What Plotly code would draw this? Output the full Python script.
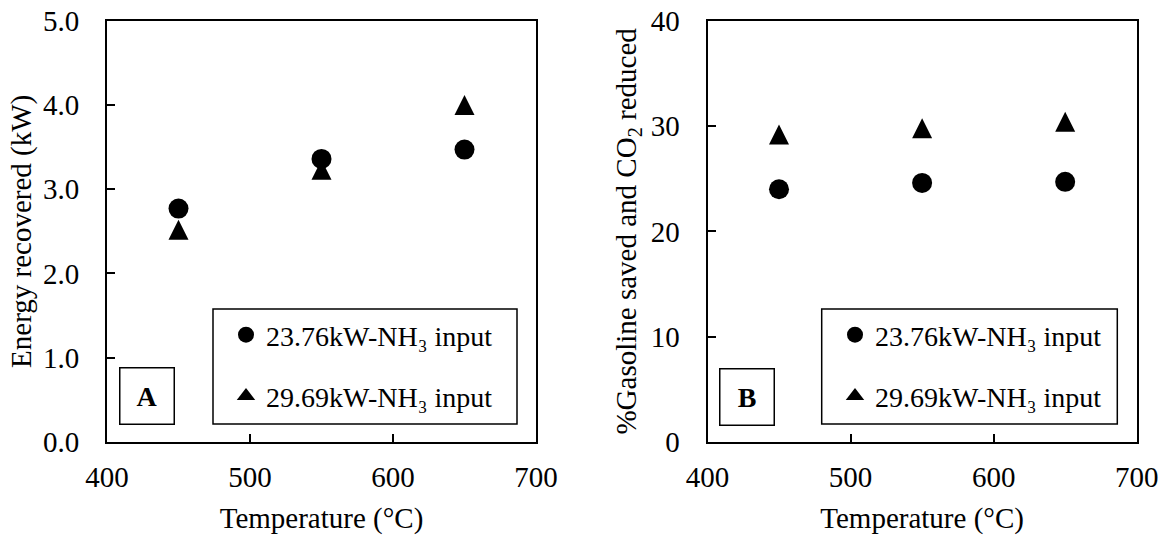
import plotly.graph_objects as go

# ---------------- data ----------------
temps = [450, 550, 650]
series_names = ["23.76kW-NH₃ input", "29.69kW-NH₃ input"]
energy_low = [2.77, 3.36, 3.47]      # kW, 23.76 kW NH3 input
energy_high = [2.52, 3.23, 4.00]     # kW, 29.69 kW NH3 input
saving_low = [24.0, 24.6, 24.7]      # %, 23.76 kW NH3 input
saving_high = [29.2, 29.8, 30.4]     # %, 29.69 kW NH3 input
x_ticks = [400, 500, 600, 700]
y1_ticks = [0, 1, 2, 3, 4, 5]
y2_ticks = [0, 10, 20, 30, 40]
panel_labels = ["A", "B"]
x_title = "Temperature (°C)"
y1_title = "Energy recovered (kW)"
y2_title = "%Gasoline saved and CO<sub>2</sub> reduced"

# ---------------- layout helpers ----------------
W, H = 1172, 538
FONT = "Liberation Serif"


def fx(p):
    return p / W


def fy(p):
    return 1 - p / H


circle_marker = dict(symbol="circle", size=20, color="black", line=dict(width=0))
# equal width/height triangle, centred on the data point
tri_marker = dict(symbol="arrow-down", angle=180, standoff=10, size=20,
                  color="black", line=dict(width=0))
tri_legend_marker = dict(symbol="triangle-up", size=16, color="black", line=dict(width=0))

fig = go.Figure()

panels = [
    ("x", "y", "legend", energy_low, energy_high),
    ("x2", "y2", "legend2", saving_low, saving_high),
]
for i, (xa, ya, lg, low, high) in enumerate(panels):
    fig.add_trace(go.Scatter(x=temps, y=low, mode="markers", name=series_names[0],
                             marker=circle_marker, xaxis=xa, yaxis=ya,
                             legend=lg, legendgroup=f"c{i}"))
    fig.add_trace(go.Scatter(x=temps, y=high, mode="markers", name=series_names[1],
                             marker=tri_marker, xaxis=xa, yaxis=ya,
                             showlegend=False, legendgroup=f"t{i}"))
    # legend entry for the triangle series (plain triangle glyph)
    fig.add_trace(go.Scatter(x=[None], y=[None], mode="markers", name=series_names[1],
                             marker=tri_legend_marker, xaxis=xa, yaxis=ya,
                             legend=lg, legendgroup=f"t{i}"))

ydom = [fy(442), fy(20.7)]
common_x = dict(range=[x_ticks[0], x_ticks[-1]], tickvals=x_ticks, ticks="inside", ticklen=8,
                tickwidth=1.5, tickcolor="black", showline=True, linecolor="black",
                linewidth=2, mirror=True, showgrid=False, zeroline=False,
                tickfont=dict(family=FONT, size=29, color="black"),
                ticklabelstandoff=8, automargin=False,
                title=dict(text=x_title, font=dict(family=FONT, size=29, color="black"),
                           standoff=16))
common_y = dict(ticks="inside", ticklen=8, tickwidth=1.5, tickcolor="black", showline=True,
                linecolor="black", linewidth=2, mirror=True, showgrid=False, zeroline=False,
                tickfont=dict(family=FONT, size=29, color="black"),
                ticklabelstandoff=20, automargin=False)

fig.update_layout(
    width=W, height=H,
    margin=dict(l=0, r=0, t=0, b=0),
    paper_bgcolor="white", plot_bgcolor="white",
    font=dict(family=FONT, size=29, color="black"),
    xaxis=dict(domain=[fx(107), fx(536)], anchor="y", **common_x),
    xaxis2=dict(domain=[fx(707.5), fx(1136.7)], anchor="y2", **common_x),
    yaxis=dict(domain=ydom, anchor="x", range=[y1_ticks[0], y1_ticks[-1]], tickvals=y1_ticks,
               tickformat=".1f",
               title=dict(text=y1_title, font=dict(family=FONT, size=29, color="black"),
                          standoff=3),
               **common_y),
    yaxis2=dict(domain=ydom, anchor="x2", range=[y2_ticks[0], y2_ticks[-1]], tickvals=y2_ticks,
                title=dict(text=y2_title, font=dict(family=FONT, size=29, color="black"),
                           standoff=6),
                **common_y),
    legend=dict(x=fx(226), y=fy(310), xanchor="left", yanchor="top",
                bgcolor="rgba(0,0,0,0)", borderwidth=0, tracegroupgap=22,
                font=dict(family=FONT, size=28, color="black")),
    legend2=dict(x=fx(835), y=fy(310), xanchor="left", yanchor="top",
                 bgcolor="rgba(0,0,0,0)", borderwidth=0, tracegroupgap=22,
                 font=dict(family=FONT, size=28, color="black")),
    showlegend=True,
)

# legend frames
for (x0, x1) in [(213, 517), (821.7, 1117.3)]:
    fig.add_shape(type="rect", xref="paper", yref="paper",
                  x0=fx(x0), x1=fx(x1), y0=fy(424), y1=fy(309),
                  line=dict(color="black", width=1.5), fillcolor="rgba(0,0,0,0)")

# panel labels
for lab, cx, cy in [(panel_labels[0], 146.5, 395.5), (panel_labels[1], 746.5, 397)]:
    fig.add_annotation(text=f"<b>{lab}</b>", xref="paper", yref="paper",
                       x=fx(cx), y=fy(cy), xanchor="center", yanchor="middle",
                       showarrow=False, width=53, height=55, borderpad=0,
                       bordercolor="black", borderwidth=1.5,
                       font=dict(family=FONT, size=28, color="black"))

fig.write_html("out.html", config={"displayModeBar": False},
               post_script="document.body.style.margin='0';")
